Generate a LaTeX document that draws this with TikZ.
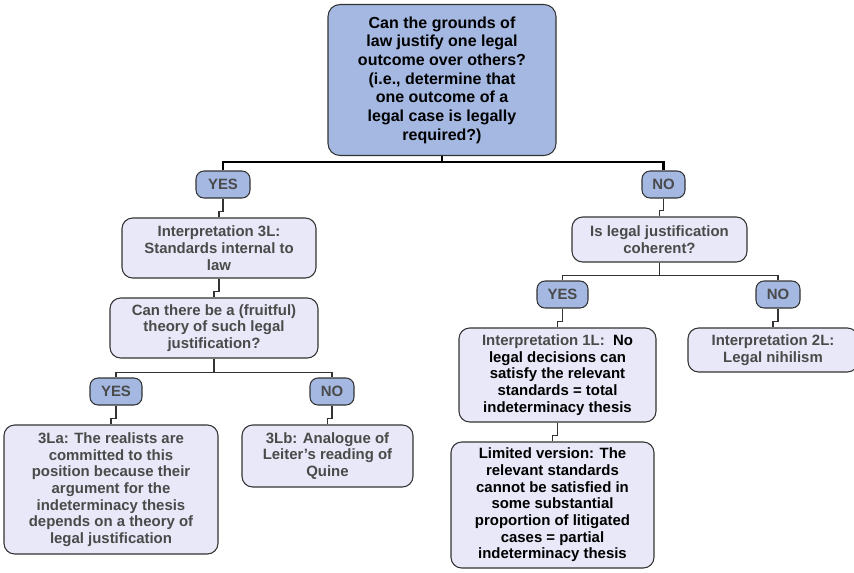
\documentclass[tikz,border=0pt]{standalone}
\usepackage{fontspec}
\setmainfont{Liberation Sans}
\definecolor{boxblue}{HTML}{A4B8E2}
\definecolor{boxlav}{HTML}{E8E8F8}
\definecolor{txtgray}{HTML}{4A4A4A}
\definecolor{linegray}{HTML}{333333}
\begin{document}
\begin{tikzpicture}[x=0.75pt, y=-0.75pt, line width=0.8pt,
  base box/.style={draw=linegray, rounded corners=6pt, align=center, inner sep=2pt, font=\fontsize{11.2}{12.5}\selectfont\bfseries},
  main node/.style={base box, fill=boxblue, text=black, rounded corners=9pt, font=\fontsize{12}{14}\selectfont\bfseries},
  ans node/.style={base box, fill=boxblue, text=txtgray, minimum height=20.25pt},
  q node/.style={base box, fill=boxlav, text=txtgray, rounded corners=8pt},
  branch/.style={to path={(\tikztostart.south) -- ++(0,#1) -| (\tikztotarget.north)}},
  jog/.style={to path={(\tikztostart.south) |- ([yshift=4.5pt]\tikztotarget.north) -- (\tikztotarget.north)}}]
\useasboundingbox (0,0) rectangle (854,572);
% top question
\node [main node, minimum width=171pt, minimum height=113.25pt] (ground) at (442,80) {Can the grounds of\\law justify one legal\\outcome over others?\\(i.e., determine that\\one outcome of a\\legal case is legally\\required?)};
\node [ans node, minimum width=40.5pt] (yes1) at (223,184.5) {YES};
\node [ans node, minimum width=32.25pt] (no1) at (663.5,184.5) {NO};
% left side
\node [q node, minimum width=145.5pt, minimum height=45pt] (int3l) at (219,248) {Interpretation 3L:\\Standards internal to\\law};
\node [q node, minimum width=156pt, minimum height=45pt] (theory) at (214,328) {Can there be a (fruitful)\\theory of such legal\\justification?};
\node [ans node, minimum width=39pt] (yes2) at (116,391.5) {YES};
\node [ans node, minimum width=33pt] (no2) at (332,391.5) {NO};
\node [q node, minimum width=160.5pt, minimum height=96.75pt] (real) at (111,489.5) {3La: The realists are\\committed to this\\position because their\\argument for the\\indeterminacy thesis\\depends on a theory of\\legal justification};
\node [q node, minimum width=128.25pt, minimum height=46.5pt] (quine) at (327.5,456) {3Lb: Analogue of\\Leiter{\char"27}s reading of\\Quine};
% right side
\node [q node, minimum width=131.25pt, minimum height=33.75pt] (coher) at (659.5,239.5) {Is legal justification\\coherent?};
\node [ans node, minimum width=38.25pt] (yes3) at (562.5,294.5) {YES};
\node [ans node, minimum width=33pt] (no3) at (778,294.5) {NO};
\node [q node, text=black, minimum width=147.75pt, minimum height=70.5pt] (int1l) at (557.5,375) {\textcolor{txtgray}{Interpretation 1L:}\ \ No\\legal decisions can\\satisfy the relevant\\standards = total\\indeterminacy thesis};
\node [q node, minimum width=127.5pt, minimum height=33pt] (int2l) at (773,350) {Interpretation 2L:\\Legal nihilism};
\node [q node, text=black, minimum width=152.25pt, minimum height=94.5pt] (limit) at (552.5,505) {Limited version: The\\relevant standards\\cannot be satisfied in\\some substantial\\proportion of litigated\\cases = partial\\indeterminacy thesis};
\path [draw=black]
  (ground) edge [branch=6, line width=1.6pt] (yes1)
  (ground) edge [branch=6, line width=1.6pt] (no1);
\path [draw=linegray]
  (yes1) edge [jog] (int3l)
  (int3l) edge [jog] (theory)
  (theory) edge [branch=14] (yes2)
  (theory) edge [branch=14] (no2)
  (yes2) edge [jog] (real)
  (no2) edge [jog] (quine)
  (no1) edge [jog] (coher)
  (coher) edge [branch=13] (yes3)
  (coher) edge [branch=13] (no3)
  (yes3) edge [jog] (int1l)
  (no3) edge [jog] (int2l)
  (int1l) edge [jog] (limit);
\end{tikzpicture}
\end{document}
